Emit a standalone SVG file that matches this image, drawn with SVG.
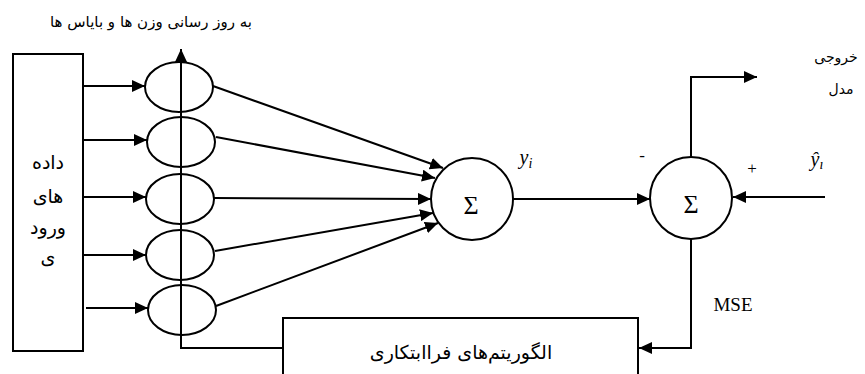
<svg xmlns="http://www.w3.org/2000/svg" width="865" height="374" viewBox="0 0 865 374">
<style>
.s{fill:none;stroke:#000;stroke-width:2}
.n{fill:#fff;stroke:#000;stroke-width:2}
.fa{font-family:"DejaVu Sans",sans-serif;fill:#000;text-anchor:middle}
.se{font-family:"Liberation Serif",serif;fill:#000;text-anchor:middle}
</style>
<defs>
<marker id="ah" markerUnits="userSpaceOnUse" markerWidth="14" markerHeight="12" refX="13" refY="6" orient="auto">
<path d="M0,0 L13,6 L0,12 Z" fill="#000"/>
</marker>
</defs>
<rect width="865" height="374" fill="#fff"/>
<g id="connectors">
<line class="s" x1="83" y1="86" x2="145" y2="86" marker-end="url(#ah)"/>
<line class="s" x1="83" y1="140" x2="147" y2="140" marker-end="url(#ah)"/>
<line class="s" x1="83" y1="197" x2="146" y2="197" marker-end="url(#ah)"/>
<line class="s" x1="83" y1="255" x2="146" y2="255" marker-end="url(#ah)"/>
<line class="s" x1="86" y1="308" x2="148" y2="308" marker-end="url(#ah)"/>
<line class="s" x1="213" y1="86" x2="443" y2="168" marker-end="url(#ah)"/>
<line class="s" x1="216" y1="137" x2="435" y2="178" marker-end="url(#ah)"/>
<line class="s" x1="214" y1="198" x2="431" y2="199" marker-end="url(#ah)"/>
<line class="s" x1="215" y1="251" x2="433" y2="213" marker-end="url(#ah)"/>
<line class="s" x1="216" y1="306" x2="438" y2="223" marker-end="url(#ah)"/>
<line class="s" x1="513" y1="199" x2="650" y2="199" marker-end="url(#ah)"/>
<polyline class="s" points="691,157 691,77 757,77" marker-end="url(#ah)"/>
<line class="s" x1="825" y1="197" x2="733" y2="197" marker-end="url(#ah)"/>
<polyline class="s" points="691,239 691,348 639,348" marker-end="url(#ah)"/>
</g>
<g id="input">
<rect class="n" x="13" y="54" width="70" height="297"/>
<text class="fa" x="48" y="169" font-size="19">داده</text>
<text class="fa" x="48" y="203" font-size="19">های</text>
<text class="fa" x="48" y="234" font-size="19">ورود</text>
<text class="fa" x="48" y="264" font-size="19">ی</text>
</g>
<g id="neurons">
<ellipse class="n" cx="179" cy="87" rx="34" ry="25"/>
<ellipse class="n" cx="181" cy="142" rx="34" ry="25"/>
<ellipse class="n" cx="180" cy="199" rx="34" ry="25"/>
<ellipse class="n" cx="180" cy="255" rx="34" ry="25"/>
<ellipse class="n" cx="182" cy="310" rx="34" ry="25"/>
</g>
<g id="update">
<polyline class="s" points="283,348 181,348 181,49" marker-end="url(#ah)"/>
<text class="fa" x="151" y="27" font-size="15">به روز رسانی وزن ها و بایاس ها</text>
</g>
<g id="sum1">
<circle class="n" cx="472" cy="199" r="41"/>
<text class="se" x="471" y="214" font-size="26">Σ</text>
<text class="se" x="526" y="164" font-size="20" font-style="italic">y<tspan font-size="14" dy="4">i</tspan></text>
</g>
<g id="sum2">
<circle class="n" cx="691" cy="198" r="41"/>
<text class="se" x="691" y="213" font-size="26">Σ</text>
<text class="se" x="642" y="161" font-size="17">-</text>
<text class="se" x="752" y="174" font-size="17">+</text>
<text class="se" x="817" y="166" font-size="20" font-style="italic">ŷ<tspan font-size="14" dy="3">ı</tspan></text>
</g>
<g id="output">
<text class="fa" x="836" y="62" font-size="14">خروجی</text>
<text class="fa" x="841" y="94" font-size="14">مدل</text>
</g>
<g id="mse">
<text class="se" x="733" y="311" font-size="19">MSE</text>
</g>
<g id="meta">
<rect class="n" x="283" y="318" width="355" height="62"/>
<text class="fa" x="461" y="359" font-size="19">الگوریتم‌های فراابتکاری</text>
</g>
</svg>
